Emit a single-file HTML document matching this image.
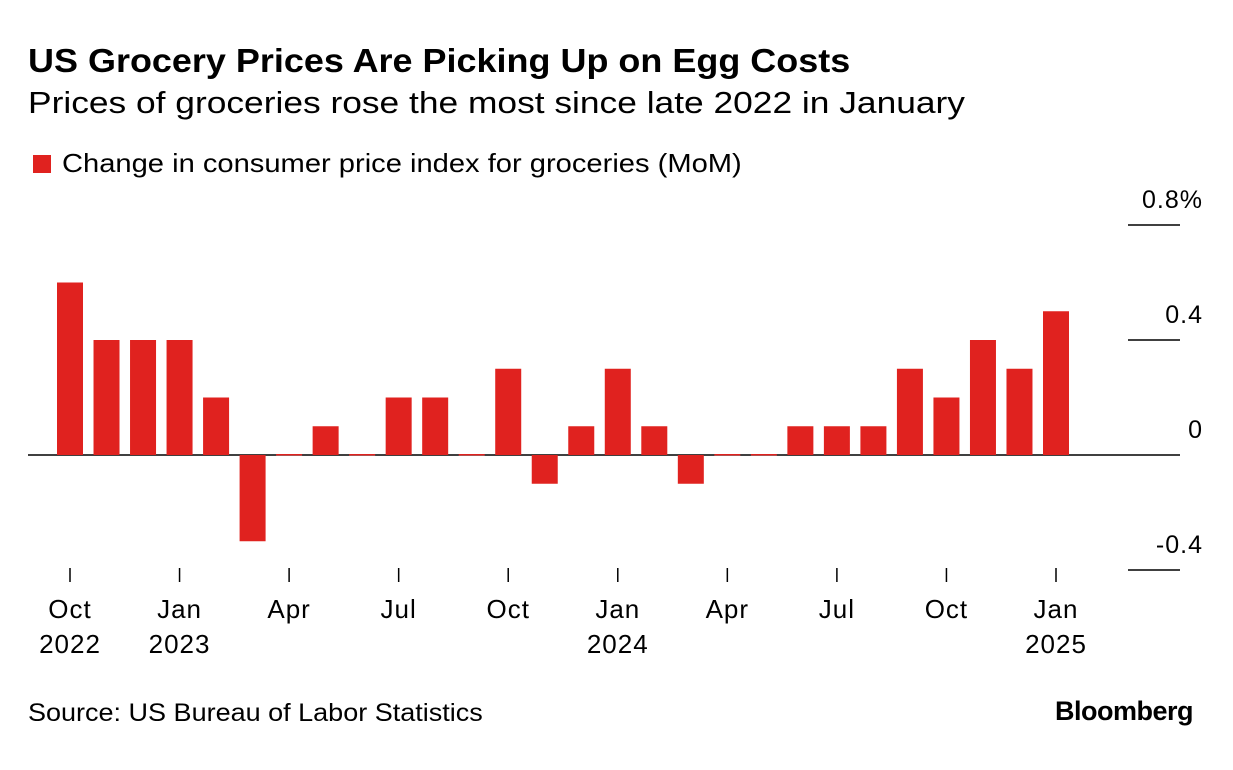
<!DOCTYPE html>
<html><head><meta charset="utf-8">
<style>
body{margin:0;background:#fff;font-family:"Liberation Sans",sans-serif;}
#wrap{position:relative;width:1233px;height:770px;overflow:hidden;}
.t{position:absolute;white-space:nowrap;color:#000;transform-origin:0 0;}
</style></head>
<body>
<div id="wrap">
<div class="t" style="left:28px;top:42px;font-size:33px;font-weight:bold;transform:scaleX(1.09);">US Grocery Prices Are Picking Up on Egg Costs</div>
<div class="t" style="left:28px;top:85px;font-size:31px;transform:scaleX(1.14);">Prices of groceries rose the most since late 2022 in January</div>
<div style="position:absolute;left:33px;top:155px;width:18px;height:18px;background:#e0221f;"></div>
<div class="t" style="left:62px;top:148px;font-size:26px;transform:scaleX(1.12);">Change in consumer price index for groceries (MoM)</div>
<svg id="chart" width="1233" height="770" style="position:absolute;left:0;top:0;"></svg>
<div class="t" style="left:28px;top:699px;font-size:25px;transform:scaleX(1.08);">Source: US Bureau of Labor Statistics</div>
<div class="t" style="left:1055px;top:696px;font-size:27px;font-weight:bold;letter-spacing:-0.5px;">Bloomberg</div>
</div>
<script>
const values=[0.6,0.4,0.4,0.4,0.2,-0.3,0.0,0.1,0.0,0.2,0.2,0.0,0.3,-0.1,0.1,0.3,0.1,-0.1,0.0,0.0,0.1,0.1,0.1,0.3,0.2,0.4,0.3,0.5];
const yTicks=[0.8,0.4,0,-0.4];
const yTickLabels=["0.8%","0.4","0","-0.4"];
const xTickIdx=[0,3,6,9,12,15,18,21,24,27];
const xTickLabels=["Oct","Jan","Apr","Jul","Oct","Jan","Apr","Jul","Oct","Jan"];
const yearLabels=["2022","2023","","","","2024","","","","2025"];
const NS="http://www.w3.org/2000/svg";
const svg=document.getElementById('chart');
const x0=70,dx=(1056-70)/27,bw=26;
const xs=i=>x0+i*dx;
const ys=v=>455-v*287.5;
function mk(t,a){const e=document.createElementNS(NS,t);for(const k in a)e.setAttribute(k,a[k]);svg.appendChild(e);return e;}
yTicks.forEach((v,i)=>{
 const l=mk('line',{x1:v===0?28:1128,x2:1180,y1:ys(v),y2:ys(v),stroke:'#000','stroke-width':1.5});
 
 
 const t=mk('text',{x:1203,y:ys(v)-17,'text-anchor':'end','font-size':25,'letter-spacing':1,'font-family':'Liberation Sans, sans-serif'});
 t.textContent=yTickLabels[i];
 
 
});
values.forEach((v,i)=>{
 const top=Math.min(ys(v),ys(0)),h=Math.max(Math.abs(ys(v)-ys(0)),1.5);
 const r=mk('rect',{x:xs(i)-bw/2,y:v===0?ys(0)-1:top,width:bw,height:h,fill:'#e0221f'});
 
 
});
xTickIdx.forEach((idx,i)=>{
 const x=xs(idx);
 const l=mk('line',{x1:x,x2:x,y1:568,y2:582,stroke:'#000','stroke-width':1.5});
 
 
 const t=mk('text',{x:x,y:618,'text-anchor':'middle','font-size':26,'letter-spacing':1,'font-family':'Liberation Sans, sans-serif'});
 t.textContent=xTickLabels[i];
 
 
 if(yearLabels[i]){
  const y=mk('text',{x:x,y:653,'text-anchor':'middle','font-size':26,'letter-spacing':1,'font-family':'Liberation Sans, sans-serif'});
  y.textContent=yearLabels[i];
  
  
 }
});
</script>
</body></html>
